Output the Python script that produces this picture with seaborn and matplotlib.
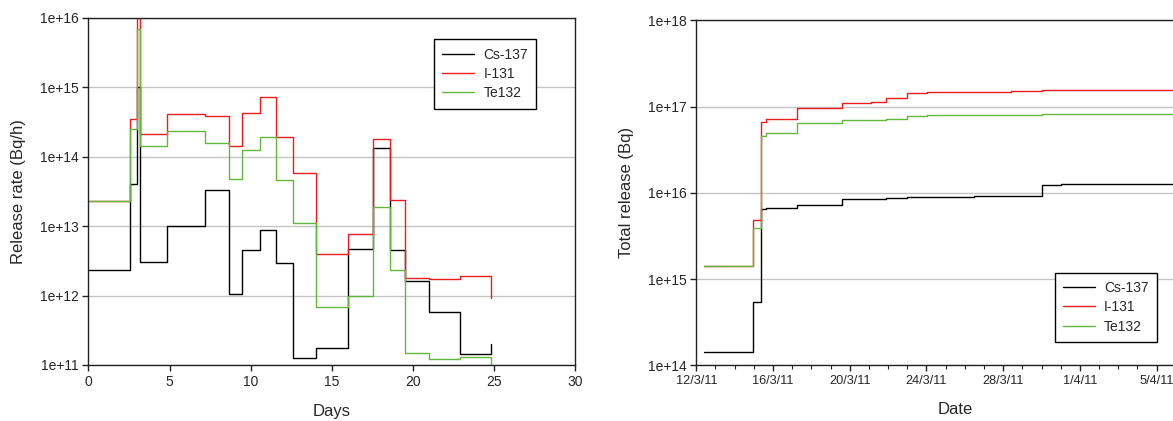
import numpy as np
import pandas as pd
import matplotlib
matplotlib.use("Agg")
import matplotlib.pyplot as plt
import matplotlib.dates as mdates
from matplotlib.ticker import FixedLocator, FuncFormatter, NullLocator
from matplotlib.lines import Line2D
import seaborn as sns

# ---- Release rate (Bq/h), step values starting at each time (days) ----
days = [0, 2.56, 2.97, 3.2, 4.85, 7.2, 8.7, 9.48, 10.56, 11.6, 12.6, 14.06,
        16.0, 17.58, 18.6, 19.5, 21.0, 22.95, 24.85]
cs137_rate = [2.3e12, 4.0e13, 1.0e15, 3.0e12, 1.0e13, 3.3e13, 1.05e12, 4.6e12,
              8.7e12, 2.9e12, 1.27e11, 1.75e11, 4.7e12, 1.35e14, 4.6e12,
              1.6e12, 5.8e11, 1.44e11, 2.0e11]
i131_rate = [2.3e13, 3.5e14, 1.0e16, 2.1e14, 4.1e14, 3.9e14, 1.4e14, 4.3e14,
             7.1e14, 1.9e14, 5.8e13, 4.0e12, 7.7e12, 1.8e14, 2.4e13, 1.78e12,
             1.75e12, 1.93e12, 9.2e11]
te132_rate = [2.3e13, 2.5e14, 6.8e15, 1.4e14, 2.3e14, 1.55e14, 4.7e13, 1.23e14,
              1.9e14, 4.6e13, 1.1e13, 6.8e11, 9.8e11, 1.87e13, 2.3e12, 1.47e11,
              1.23e11, 1.29e11, 9.0e10]

# ---- Total (cumulative) release (Bq), days after 12/3/11 00:00 ----
start_date = "2011-03-12"
total_days = [0.42, 2.98, 3.39, 3.62, 5.27, 7.62, 9.12, 9.9, 10.98, 12.02,
              13.02, 14.48, 16.42, 18.0, 19.02, 19.92, 21.42, 23.37, 25.27]
cs137_total = [1.41e14, 5.4e14, 6.5e15, 6.7e15, 7.3e15, 8.5e15, 8.55e15,
               8.6e15, 8.9e15, 8.95e15, 9.0e15, 9.1e15, 9.2e15, 1.24e16,
               1.25e16, 1.255e16, 1.26e16, 1.26e16, 1.26e16]
i131_total = [1.41e15, 4.9e15, 6.6e16, 7.2e16, 9.6e16, 1.11e17, 1.12e17,
              1.25e17, 1.42e17, 1.46e17, 1.48e17, 1.49e17, 1.5e17, 1.55e17,
              1.55e17, 1.555e17, 1.56e17, 1.565e17, 1.57e17]
te132_total = [1.41e15, 3.9e15, 4.6e16, 5.0e16, 6.4e16, 6.9e16, 7.0e16,
               7.2e16, 7.8e16, 7.9e16, 8.0e16, 8.0e16, 8.0e16, 8.1e16, 8.1e16,
               8.1e16, 8.1e16, 8.1e16, 8.1e16]

nuclides = ["Cs-137", "I-131", "Te132"]
colors = {"Cs-137": "#000000", "I-131": "#ee1c1c", "Te132": "#62b83c"}

rate_df = pd.concat([
    pd.DataFrame({"Days": days, "rate": vals, "nuclide": name})
    for name, vals in zip(nuclides, [cs137_rate, i131_rate, te132_rate])
])
t0 = pd.Timestamp(start_date)
total_df = pd.concat([
    pd.DataFrame({"Date": t0 + pd.to_timedelta(total_days, unit="D"),
                  "total": vals, "nuclide": name})
    for name, vals in zip(nuclides, [cs137_total, i131_total, te132_total])
])

sns.set_style("white")
plt.rcParams["font.family"] = ["Liberation Sans", "DejaVu Sans"]
plt.rcParams["font.size"] = 10

W, H = 1173, 421
fig = plt.figure(figsize=(W / 100, H / 100), dpi=100)

def fx(px):
    return px / W

def fy(py):
    return 1 - py / H

ax1 = fig.add_axes([fx(88.5), fy(365), fx(574.7) - fx(88.5), fy(17.7) - fy(365)])
ax2 = fig.add_axes([fx(696.3), fy(365.3), fx(696.3 + 27 * 19.18) - fx(696.3),
                    fy(20.3) - fy(365.3)])

line_kw = dict(drawstyle="steps-post", linewidth=1.0, estimator=None,
               legend=False, hue_order=nuclides, palette=colors)

sns.lineplot(data=rate_df, x="Days", y="rate", hue="nuclide", ax=ax1, **line_kw)
sns.lineplot(data=total_df, x="Date", y="total", hue="nuclide", ax=ax2, **line_kw)

exp_fmt = FuncFormatter(lambda v, _: f"1e+{int(round(np.log10(v)))}")

# Left panel: release rate
ax1.set_yscale("log")
ax1.set_ylim(1e11, 1e16)
ax1.set_xlim(0, 30)
ax1.xaxis.set_major_locator(FixedLocator([0, 5, 10, 15, 20, 25, 30]))
ax1.yaxis.set_major_locator(FixedLocator([10.0 ** k for k in range(11, 17)]))
ax1.yaxis.set_minor_locator(NullLocator())
ax1.yaxis.set_major_formatter(exp_fmt)
ax1.set_xlabel("Days", fontsize=12, labelpad=11)
ax1.set_ylabel("Release rate (Bq/h)", fontsize=12, labelpad=10)

# Right panel: total release
ax2.set_yscale("log")
ax2.set_ylim(1e14, 1e18)
ax2.set_xlim(t0, t0 + pd.Timedelta(days=27))
ax2.yaxis.set_major_locator(FixedLocator([10.0 ** k for k in range(14, 19)]))
ax2.yaxis.set_minor_locator(NullLocator())
ax2.yaxis.set_major_formatter(exp_fmt)
ax2.xaxis.set_major_locator(mdates.DayLocator(bymonthday=[12, 16, 20, 24, 28, 1, 5]))
ax2.xaxis.set_minor_locator(mdates.DayLocator())

def date_label(v, _):
    d = mdates.num2date(v)
    return f"{d.day}/{d.month}/{d.year % 100}"

ax2.xaxis.set_major_formatter(FuncFormatter(date_label))
ax2.set_xlabel("Date", fontsize=12, labelpad=11)
ax2.set_ylabel("Total release (Bq)", fontsize=12, labelpad=10)

for ax in (ax1, ax2):
    ax.grid(axis="y", which="major", color="#c4c4c4", linewidth=1.0)
    ax.grid(axis="x", visible=False)
    ax.set_axisbelow(True)
    for sp in ax.spines.values():
        sp.set_color("#222222")
        sp.set_linewidth(1.0)
    ax.tick_params(axis="both", which="major", direction="out", length=4,
                   width=1.0, color="#222222", labelsize=10, pad=3,
                   bottom=True, left=True)
    ax.tick_params(axis="x", which="minor", direction="out", length=3,
                   width=0.8, color="#222222", bottom=True)
ax2.tick_params(axis="x", which="major", labelsize=9.2)

handles = [Line2D([], [], color=colors[n], linewidth=1.0) for n in nuclides]
leg_kw = dict(loc="upper left", bbox_transform=fig.transFigure, fontsize=10,
              frameon=True, fancybox=False, shadow=False, framealpha=1,
              edgecolor="#000000", borderpad=0.6, labelspacing=0.38,
              handlelength=2.3, handletextpad=0.65, borderaxespad=0)
l1 = ax1.legend(handles, nuclides, bbox_to_anchor=(fx(434), fy(39.3)), **leg_kw)
l2 = ax2.legend(handles, nuclides, bbox_to_anchor=(fx(1054.7), fy(272.7)), **leg_kw)
for leg in (l1, l2):
    leg.get_frame().set_linewidth(1.0)

fig.savefig("out.png", dpi=100)
